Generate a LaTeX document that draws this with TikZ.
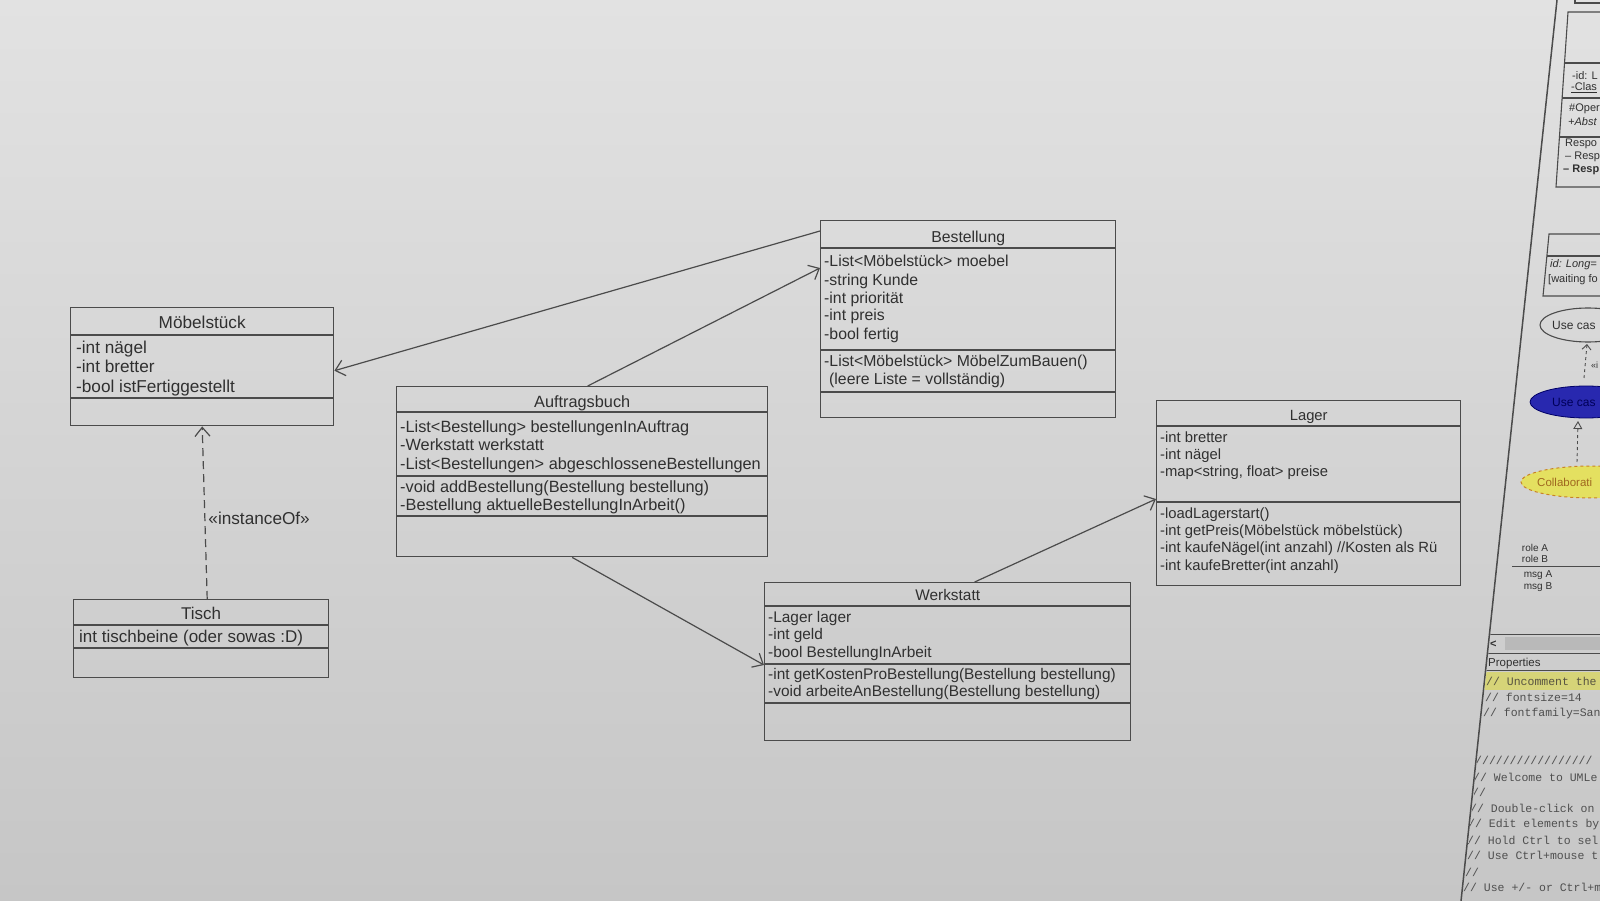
\documentclass[tikz,border=0pt]{standalone}
\usepackage{fontspec}
\setmainfont{Liberation Sans}
\newfontfamily\monofont{Liberation Mono}
\usetikzlibrary{arrows.meta,calc,shapes.geometric}
\definecolor{bgtop}{RGB}{226,226,226}
\definecolor{bgbot}{RGB}{198,198,198}
\definecolor{ink}{RGB}{48,48,48}
\definecolor{edge}{RGB}{75,75,75}
\definecolor{ucblue}{RGB}{40,40,175}
\definecolor{collab}{RGB}{228,224,96}
\definecolor{collabedge}{RGB}{200,130,40}
\definecolor{hl}{RGB}{214,212,120}
\newcommand{\umlline}[1]{\hbox{#1}}
\begin{document}
\begin{tikzpicture}[x=1pt,y=-1pt,
  cls/.style={draw=edge, line width=1.4pt, inner sep=0pt, anchor=north west},
  sepl/.style={draw=edge, line width=1.3pt},
  txt/.style={text=ink, inner sep=0pt, anchor=base west},
  ttl/.style={text=ink, inner sep=0pt, anchor=base},
  assoc/.style={draw=edge, line width=1.2pt, -{Straight Barb[length=9pt,width=16pt,line width=1.2pt]}},
  fA/.style={font=\fontsize{17.2}{19.5}\selectfont},
  fT/.style={font=\fontsize{17}{19}\selectfont},
  fB/.style={font=\fontsize{16.3}{18.5}\selectfont},
  fC/.style={font=\fontsize{15.8}{18}\selectfont},
  fD/.style={font=\fontsize{15.4}{17.5}\selectfont},
  fE/.style={font=\fontsize{14.8}{17.4}\selectfont},
  sb/.style={draw=edge, line width=1.1pt},
  sbt/.style={text=ink, inner sep=0pt, anchor=base west, font=\fontsize{11}{12}\selectfont},
  sbm/.style={text=ink!85, inner sep=0pt, anchor=base west, font=\monofont\fontsize{11.5}{12}\selectfont},
]
\useasboundingbox (0,0) rectangle (1600,901);
\shade[top color=bgtop, bottom color=bgbot] (0,0) rectangle (1600,901);

% ---------- Möbelstück ----------
\node[cls, minimum width=263pt, minimum height=118pt] (moeb) at (70,307) {};
\draw[sepl] ([yshift=-28pt]moeb.north west) -- ([yshift=-28pt]moeb.north east);
\draw[sepl] ([yshift=-91pt]moeb.north west) -- ([yshift=-91pt]moeb.north east);
\node[ttl, fA] (moebT) at ([yshift=-21pt]moeb.north) {Möbelstück};
\node[txt, fA] (moebA) at ([xshift=6pt,yshift=-46pt]moeb.north west) {\vtop{\umlline{-int nägel}\umlline{-int bretter}\umlline{-bool istFertiggestellt}}};

% ---------- Tisch ----------
\node[cls, minimum width=255pt, minimum height=78pt] (tisch) at (73,599) {};
\draw[sepl] ([yshift=-26pt]tisch.north west) -- ([yshift=-26pt]tisch.north east);
\draw[sepl] ([yshift=-49pt]tisch.north west) -- ([yshift=-49pt]tisch.north east);
\node[ttl, fT] (tischT) at ([yshift=-20pt]tisch.north) {Tisch};
\node[txt, fT] (tischA) at ([xshift=6pt,yshift=-43pt]tisch.north west) {int tischbeine (oder sowas :D)};

% ---------- Auftragsbuch ----------
\node[cls, minimum width=371pt, minimum height=170pt] (auft) at (396,386) {};
\draw[sepl] ([yshift=-26pt]auft.north west) -- ([yshift=-26pt]auft.north east);
\draw[sepl] ([yshift=-90pt]auft.north west) -- ([yshift=-90pt]auft.north east);
\draw[sepl] ([yshift=-130pt]auft.north west) -- ([yshift=-130pt]auft.north east);
\node[ttl, fB] (auftT) at ([yshift=-21pt]auft.north) {Auftragsbuch};
\node[txt, fB] (auftA) at ([xshift=4pt,yshift=-46pt]auft.north west) {\vtop{\umlline{-List<Bestellung> bestellungenInAuftrag}\umlline{-Werkstatt werkstatt}\umlline{-List<Bestellungen> abgeschlosseneBestellungen}}};
\node[txt, fB] (auftM) at ([xshift=4pt,yshift=-106pt]auft.north west) {\vtop{\umlline{-void addBestellung(Bestellung bestellung)}\umlline{-Bestellung aktuelleBestellungInArbeit()}}};

% ---------- Bestellung ----------
\node[cls, minimum width=295pt, minimum height=197pt] (best) at (820,220) {};
\draw[sepl] ([yshift=-28pt]best.north west) -- ([yshift=-28pt]best.north east);
\draw[sepl] ([yshift=-130pt]best.north west) -- ([yshift=-130pt]best.north east);
\draw[sepl] ([yshift=-172pt]best.north west) -- ([yshift=-172pt]best.north east);
\node[ttl, fC] (bestT) at ([yshift=-23pt]best.north) {Bestellung};
\node[txt, fC] (bestA) at ([xshift=4pt,yshift=-47pt]best.north west) {\vtop{\umlline{-List<Möbelstück> moebel}\umlline{-string Kunde}\umlline{-int priorität}\umlline{-int preis}\umlline{-bool fertig}}};
\node[txt, fC] (bestM) at ([xshift=4pt,yshift=-146pt]best.north west) {\vtop{\umlline{-List<Möbelstück> MöbelZumBauen()}\umlline{\hspace*{5pt}(leere Liste = vollständig)}}};

% ---------- Lager ----------
\node[cls, minimum width=304pt, minimum height=185pt] (lager) at (1156,400) {};
\draw[sepl] ([yshift=-26pt]lager.north west) -- ([yshift=-26pt]lager.north east);
\draw[sepl] ([yshift=-102pt]lager.north west) -- ([yshift=-102pt]lager.north east);
\node[ttl, fE] (lagerT) at ([yshift=-20pt]lager.north) {Lager};
\node[txt, fE] (lagerA) at ([xshift=4pt,yshift=-42pt]lager.north west) {\vtop{\umlline{-int bretter}\umlline{-int nägel}\umlline{-map<string, float> preise}}};
\node[txt, fE] (lagerM) at ([xshift=4pt,yshift=-118pt]lager.north west) {\vtop{\umlline{-loadLagerstart()}\umlline{-int getPreis(Möbelstück möbelstück)}\umlline{-int kaufeNägel(int anzahl) //Kosten als Rü}\umlline{-int kaufeBretter(int anzahl)}}};

% ---------- Werkstatt ----------
\node[cls, minimum width=366pt, minimum height=158pt] (werk) at (764,582) {};
\draw[sepl] ([yshift=-24pt]werk.north west) -- ([yshift=-24pt]werk.north east);
\draw[sepl] ([yshift=-82pt]werk.north west) -- ([yshift=-82pt]werk.north east);
\draw[sepl] ([yshift=-121pt]werk.north west) -- ([yshift=-121pt]werk.north east);
\node[ttl, fD] (werkT) at ([yshift=-18pt]werk.north) {Werkstatt};
\node[txt, fD] (werkA) at ([xshift=4pt,yshift=-40pt]werk.north west) {\vtop{\umlline{-Lager lager}\umlline{-int geld}\umlline{-bool BestellungInArbeit}}};
\node[txt, fD] (werkM) at ([xshift=4pt,yshift=-97pt]werk.north west) {\vtop{\umlline{-int getKostenProBestellung(Bestellung bestellung)}\umlline{-void arbeiteAnBestellung(Bestellung bestellung)}}};

% ---------- connectors ----------
\draw[assoc] ([yshift=-11pt]best.north west) -- ([yshift=-4pt]moeb.east);
\draw[assoc] ([xshift=5.5pt]auft.north) -- ([yshift=-48pt]best.north west);
\draw[assoc] ([xshift=-10pt]auft.south) -- ([yshift=-83pt]werk.north west);
\draw[assoc] ([xshift=27pt]werk.north) -- ([yshift=-99pt]lager.north west);
\draw[draw=edge, line width=1.2pt, dash pattern=on 8pt off 5pt, -{Straight Barb[length=9pt,width=15pt,line width=1.2pt]}]
  ([xshift=6pt]tisch.north) -- node[pos=0.47, anchor=west, text=ink, inner sep=0pt, xshift=3pt, fA] (inst) {«instanceOf»} (moeb.south);

% ---------- right-hand panel (partly visible) ----------
\draw[draw=edge, line width=1.5pt] (1557,0) -- (1461,901);
\begin{scope}
\clip (1558,0) -- (1600,0) -- (1600,901) -- (1462,901) -- cycle;
\draw[sb] (1600,3) -- (1575,3) -- (1575,0);
\draw[sb] (1600,12) -- (1568,12) -- (1556,187) -- (1600,187);
\draw[sb] (1565,63) -- (1600,63);
\draw[sb] (1562,98) -- (1600,98);
\draw[sb] (1559,137) -- (1600,137);
\node[sbt] (s1) at (1572,80) {-id: L};
\node[sbt] (s2) at (1571,91) {\underline{-Clas}};
\node[sbt] (s3) at (1569,112) {\#Oper};
\node[sbt] (s4) at (1568,126) {\itshape +Abst};
\node[sbt] (s5) at (1565,147) {Respo};
\node[sbt] (s6) at (1565,160) {-- Resp};
\node[sbt] (s7) at (1563,173) {\bfseries -- Resp};
\draw[sb] (1600,234) -- (1549,234) -- (1543,296) -- (1600,296);
\draw[sb] (1547,256) -- (1600,256);
\node[sbt] (s8) at (1550,268) {\itshape id: Long=};
\node[sbt] (s9) at (1548,283) {[waiting fo};
\draw[sb] (1588,325) ellipse [x radius=48pt, y radius=17pt];
\node[sbt, font=\fontsize{12}{13}\selectfont] (s10) at (1552,329) {Use cas};
\draw[sb, line width=0.9pt, dashed, -{Straight Barb[length=5pt,width=9pt]}] (1584,378) -- (1587,344);
\node[sbt, font=\fontsize{9}{10}\selectfont] (s11) at (1591,368) {«i};
\draw[draw=blue!40!black, line width=0.8pt, fill=ucblue] (1586,402) ellipse [x radius=56pt, y radius=16pt];
\node[sbt, text=blue!35!black, font=\fontsize{12}{13}\selectfont] (s12) at (1552,406) {Use cas};
\draw[sb, line width=0.9pt, dashed, -{Triangle[open,length=8pt,width=9pt]}] (1577,462) -- (1578,421);
\draw[draw=collabedge, line width=1pt, dashed, fill=collab] (1592,482) ellipse [x radius=71pt, y radius=16pt];
\node[sbt, text=collabedge!80!black, font=\fontsize{11.5}{13}\selectfont] (s13) at (1537,486) {Collaborati};
\node[sbt, anchor=base, font=\fontsize{10}{11}\selectfont] (s14) at (1535,551) {role A};
\node[sbt, anchor=base, font=\fontsize{10}{11}\selectfont] (s15) at (1535,562) {role B};
\draw[sb, line width=0.8pt] (1512,566) -- (1600,566);
\node[sbt, anchor=base, font=\fontsize{10}{11}\selectfont] (s16) at (1538,577) {msg A};
\node[sbt, anchor=base, font=\fontsize{10}{11}\selectfont] (s17) at (1538,589) {msg B};
\fill[gray!55] (1505,637) rectangle (1600,650);
\draw[sb, line width=0.6pt] (1480,634) -- (1600,634);
\node[sbt, font=\bfseries\fontsize{11}{12}\selectfont] (s18) at (1490,647) {<};
\draw[sb, line width=0.8pt] (1478,653) -- (1600,653);
\node[sbt, font=\fontsize{11.5}{12}\selectfont] (s19) at (1488,666) {Properties};
\draw[sb, line width=0.6pt] (1477,670) -- (1600,670);
\fill[hl] (1482,672) rectangle (1600,690);
\node[sbm, text=black!60!yellow!60!black] (s20) at (1486,685) {// Uncomment the};
\node[sbm] (s21) at (1485,701) {// fontsize=14};
\node[sbm] (s22) at (1483,716) {// fontfamily=San};
\node[sbm] (s23) at (1475,764) {/////////////////};
\node[sbm] (s24) at (1473,781) {// Welcome to UMLe};
\node[sbm] (s25) at (1472,796) {//};
\node[sbm] (s26) at (1470,812) {// Double-click on};
\node[sbm] (s27) at (1468,827) {// Edit elements by};
\node[sbm] (s28) at (1467,844) {// Hold Ctrl to sel};
\node[sbm] (s29) at (1467,859) {// Use Ctrl+mouse t};
\node[sbm] (s30) at (1465,876) {//};
\node[sbm] (s31) at (1463,891) {// Use +/- or Ctrl+m};
\end{scope}
\end{tikzpicture}
\end{document}
